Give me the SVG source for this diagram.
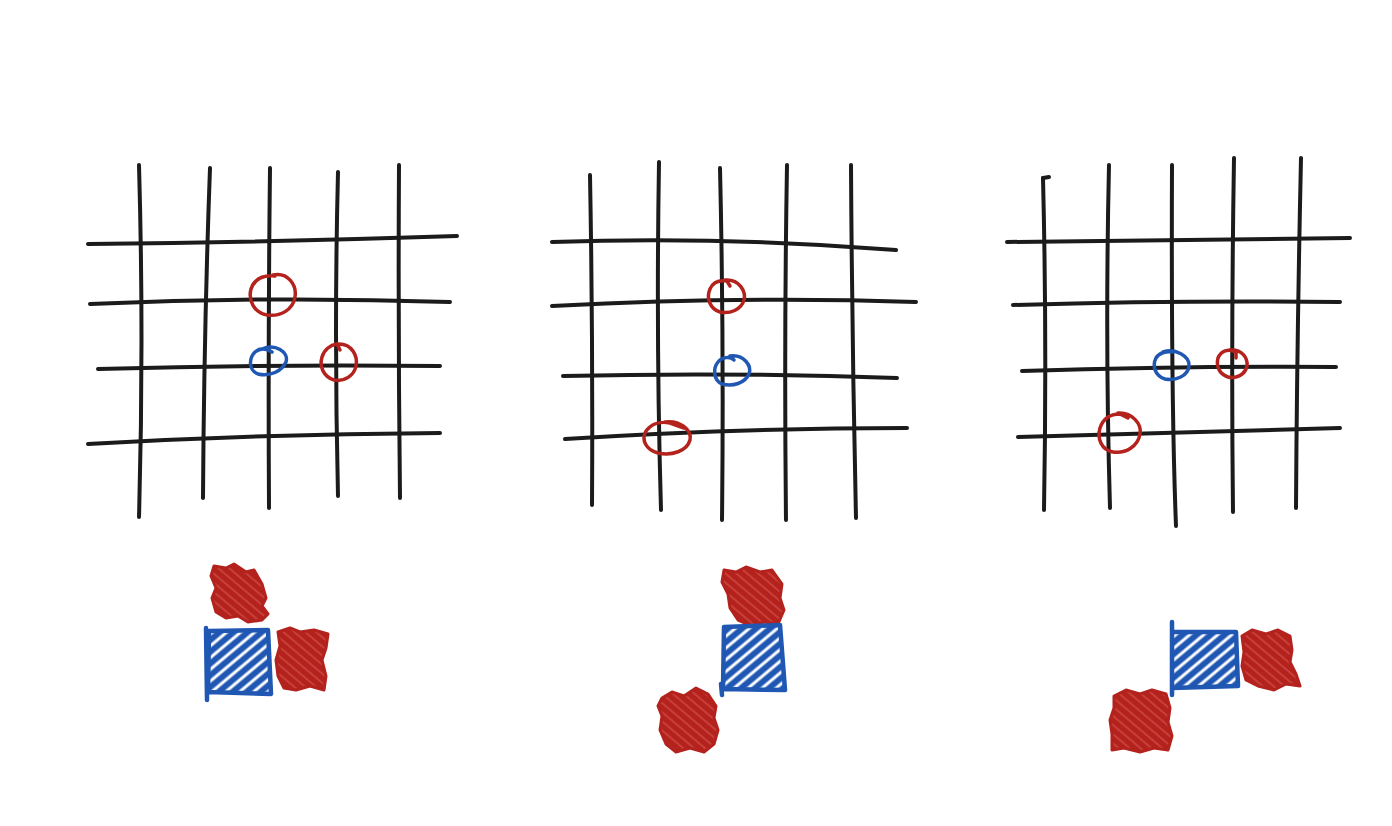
<svg xmlns="http://www.w3.org/2000/svg" width="1392" height="826" viewBox="0 0 1392 826">
<defs>
<style>
.g{fill:none;stroke:#1b1b1b;stroke-width:4;stroke-linecap:round;stroke-linejoin:round}
.rc{fill:none;stroke:#b3221d;stroke-width:3.5;stroke-linecap:round}
.bc{fill:none;stroke:#1f57b3;stroke-width:3.5;stroke-linecap:round}
.rs{fill:url(#hr);stroke:#b3221d;stroke-width:3;stroke-linejoin:round}
.bs{fill:url(#hb);stroke:#1f57b3;stroke-width:4.5;stroke-linejoin:round;stroke-linecap:round}
</style>
<pattern id="hr" patternUnits="userSpaceOnUse" width="7" height="7" patternTransform="rotate(40)">
<rect width="7" height="7" fill="#b3221d"/>
<line x1="0" y1="1" x2="7" y2="1" stroke="#d6524c" stroke-width="1.2"/>
</pattern>
<pattern id="hb" patternUnits="userSpaceOnUse" width="9" height="9" patternTransform="rotate(-40)">
<rect width="9" height="9" fill="#ffffff"/>
<line x1="0" y1="4.5" x2="9" y2="4.5" stroke="#1f57b3" stroke-width="6"/>
</pattern>
</defs>
<rect width="1392" height="826" fill="#ffffff"/>

<g id="grid1">
<path class="g" d="M139 165 Q144 340 139 517"/>
<path class="g" d="M210 168 Q204 330 203 498"/>
<path class="g" d="M270 168 Q268 340 269 508"/>
<path class="g" d="M338 172 Q334 330 338 496"/>
<path class="g" d="M399 165 Q398 330 400 498"/>
<path class="g" d="M88 244 Q280 242 457 236"/>
<path class="g" d="M90 304 Q270 296 450 302"/>
<path class="g" d="M98 369 Q270 364 440 366"/>
<path class="g" d="M88 444 Q260 434 440 433"/>
</g>
<g id="marks1">
<path class="rc" d="M273 275 C288 272 297 285 295 297 C293 310 280 317 267 315 C254 313 248 300 251 289 C254 280 262 275 275 276"/>
<path class="bc" d="M262 349 C275 343 289 352 286 362 C282 371 270 377 258 374 C248 370 249 358 255 352 C260 348 266 348 272 352"/>
<path class="rc" d="M339 344 C352 344 358 356 356 366 C354 376 344 382 334 380 C324 377 319 367 322 357 C324 350 330 345 337 344 L340 350"/>
</g>

<g id="grid2">
<path class="g" d="M590 175 Q593 340 592 505"/>
<path class="g" d="M659 162 Q656 340 661 510"/>
<path class="g" d="M720 168 Q724 340 722 520"/>
<path class="g" d="M787 165 Q784 340 786 520"/>
<path class="g" d="M851 165 Q852 340 856 518"/>
<path class="g" d="M552 242 Q720 236 896 250"/>
<path class="g" d="M552 306 Q740 296 916 302"/>
<path class="g" d="M563 376 Q730 372 897 378"/>
<path class="g" d="M565 439 Q740 428 907 428"/>
</g>
<g id="marks2">
<path class="rc" d="M725 280 C740 279 746 292 744 300 C741 310 730 314 720 312 C710 309 706 298 710 289 C713 282 720 280 727 281 L730 286"/>
<path class="bc" d="M730 356 C744 354 752 366 749 374 C745 383 733 387 722 384 C713 380 713 368 718 362 C722 357 730 356 734 360"/>
<path class="rc" d="M665 422 C680 420 692 430 690 440 C687 451 672 456 658 453 C646 450 641 440 646 431 C651 424 660 421 670 423 L684 428"/>
</g>

<g id="grid3">
<path class="g" d="M1043 178 Q1047 340 1044 510"/>
<path class="g" d="M1109 165 Q1105 340 1110 508"/>
<path class="g" d="M1172 165 Q1171 400 1176 526"/>
<path class="g" d="M1234 158 Q1231 340 1233 512"/>
<path class="g" d="M1301 158 Q1297 340 1296 508"/>
<path class="g" d="M1007 242 Q1180 240 1350 238"/>
<path class="g" d="M1013 305 Q1180 300 1340 302"/>
<path class="g" d="M1022 371 Q1180 366 1336 367"/>
<path class="g" d="M1018 437 Q1180 432 1340 428"/>
<path class="g" d="M1043 178 L1049 177"/>
</g>
<g id="marks3">
<path class="bc" d="M1163 352 C1175 348 1190 356 1189 366 C1188 376 1176 381 1165 379 C1155 376 1152 366 1156 358 C1159 353 1166 351 1172 352"/>
<path class="rc" d="M1230 350 C1242 349 1248 358 1247 366 C1245 375 1236 379 1228 377 C1219 374 1216 366 1218 358 C1221 351 1228 348 1236 352 L1236 358"/>
<path class="rc" d="M1118 413 C1132 412 1142 424 1140 434 C1138 446 1126 454 1113 452 C1101 450 1097 438 1100 428 C1103 419 1110 414 1120 414 L1128 418"/>
</g>

<g id="squares1">
<path class="rs" d="M214 566 L226 568 L234 564 L246 572 L254 570 L262 584 L266 598 L262 606 L268 614 L262 620 L248 622 L238 616 L226 618 L216 612 L212 598 L216 588 L211 576 Z"/>
<path class="bs" d="M209 631 L268 630 L271 694 L208 692 Z M206 628 L207 700"/>
<path class="rs" d="M278 632 L290 628 L300 632 L314 630 L328 634 L326 648 L322 660 L326 676 L324 690 L310 686 L296 690 L284 688 L278 676 L276 660 L280 646 Z"/>
</g>
<g id="squares2">
<path class="rs" d="M724 570 L736 572 L746 567 L760 572 L772 570 L782 584 L780 598 L784 610 L778 624 L764 622 L752 626 L738 620 L730 608 L728 594 L722 582 Z"/>
<path class="bs" d="M724 627 L780 625 L785 690 L723 689 Z M721 684 L722 695"/>
<path class="rs" d="M662 698 L672 692 L684 696 L696 688 L708 694 L716 706 L714 718 L718 730 L714 744 L704 752 L690 748 L676 752 L666 744 L660 730 L662 716 L658 706 Z"/>
</g>
<g id="squares3">
<path class="bs" d="M1172 632 L1236 632 L1238 686 L1172 688 Z M1172 622 L1172 695"/>
<path class="rs" d="M1242 636 L1252 630 L1266 634 L1278 630 L1290 636 L1292 650 L1290 662 L1296 674 L1300 686 L1286 684 L1274 690 L1258 686 L1246 680 L1242 666 L1244 652 Z"/>
<path class="rs" d="M1114 696 L1126 690 L1140 694 L1152 690 L1166 694 L1170 708 L1168 722 L1172 736 L1168 750 L1154 748 L1140 752 L1124 748 L1112 750 L1112 734 L1110 720 L1114 708 Z"/>
</g>
</svg>
